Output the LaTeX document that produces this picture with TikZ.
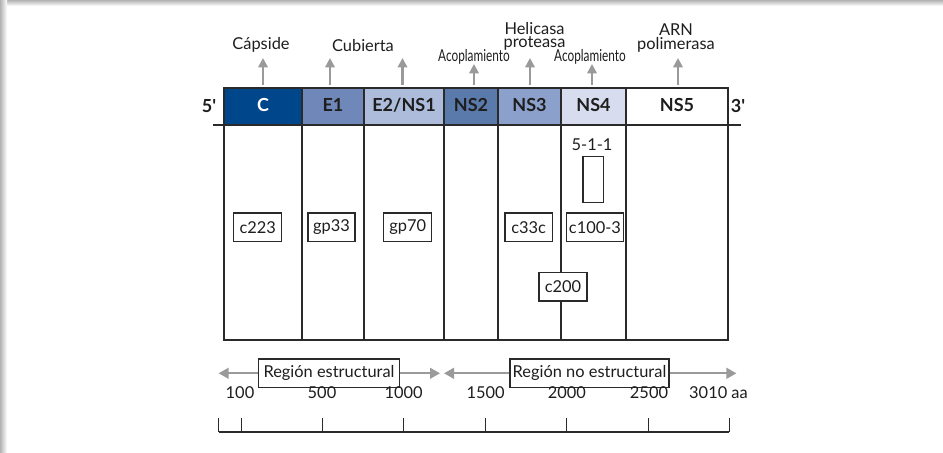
\documentclass[tikz,border=0pt]{standalone}
\usepackage{fontspec}
\setmainfont{Lato}
\usetikzlibrary{arrows.meta}
\definecolor{cC}{HTML}{00468A}
\definecolor{cEone}{HTML}{6F88B9}
\definecolor{cEtwo}{HTML}{AEBCDB}
\definecolor{cNStwo}{HTML}{5B7AAC}
\definecolor{cNSthree}{HTML}{8BA0CA}
\definecolor{cNSfour}{HTML}{D7DDEE}
\definecolor{lc}{HTML}{2A2A2A}
\definecolor{arr}{HTML}{9A9A9A}
\definecolor{txt}{HTML}{1E1E1E}
\begin{document}
\begin{tikzpicture}[x=0.75pt,y=-0.75pt,
  font=\fontsize{12.3}{14}\selectfont,
  every node/.style={text=txt},
  frame/.style={draw=lc, line width=0.9pt},
  seglab/.style={font=\fontsize{13.5}{15}\selectfont\bfseries, anchor=base},
  toplab/.style={anchor=base},
  tightlab/.style={anchor=base, inner sep=0pt},
  uparr/.style={draw=arr, line width=2.1pt, -{Triangle[width=7pt,length=7pt]}},
  regarr/.style={draw=arr, line width=1.6pt, -{Triangle[width=8pt,length=7.5pt]}},
  labbox/.style={draw=lc, line width=0.9pt, fill=white, minimum height=21.5pt, inner xsep=2pt, inner ysep=0pt},
  regbox/.style={draw=lc, line width=0.9pt, fill=white, minimum height=21.5pt, inner xsep=2pt, inner ysep=0pt},
  tick/.style={draw=lc, line width=0.8pt}
]
\useasboundingbox (0,0) rectangle (943,453);
\fill[white] (0,0) rectangle (943,453);
\shade[top color=black!30, bottom color=white] (0,0) rectangle (943,6);
\shade[left color=black!30, right color=white] (0,0) rectangle (7,453);

% segment fills
\fill[cC] (224,88) rectangle (302,125);
\fill[cEone] (302,88) rectangle (364,125);
\fill[cEtwo] (364,88) rectangle (444,125);
\fill[cNStwo] (444,88) rectangle (498,125);
\fill[cNSthree] (498,88) rectangle (561,125);
\fill[cNSfour] (561,88) rectangle (626,125);

% frame
\draw[frame] (224,88) rectangle (728,340);
\draw[frame] (213,125) -- (741,125);
\foreach \x in {302,364,444,498,561,626} \draw[frame] (\x,88) -- (\x,340);
\draw[draw=lc, line width=1.5pt] (224,340) -- (728,340);

% segment labels
\node[seglab, text=white] (C) at (263,112) {C};
\node[seglab] (E1) at (333,112) {E1};
\node[seglab] (E2) at (404,112) {E2/NS1};
\node[seglab] (NS2) at (471,112) {NS2};
\node[seglab] (NS3) at (529.5,112) {NS3};
\node[seglab] (NS4) at (593.5,112) {NS4};
\node[seglab] (NS5) at (677,112) {NS5};
\node[seglab] (p5) at (209,113) {5\textquotesingle};
\node[seglab] (p3) at (738,113) {3\textquotesingle};

% top labels
\node[toplab] (capside) at (261,49.5) {Cápside};
\node[toplab] (cubierta) at (363,51.5) {Cubierta};
\node[toplab] (acop1) at (474,61.5) {\scalebox{0.72}[1]{Acoplamiento}};
\node[toplab] (acop2) at (590,61.5) {\scalebox{0.72}[1]{Acoplamiento}};
\node[tightlab] (heli) at (534.5,34.5) {Helicasa};
\node[tightlab] (prot) at (534.5,47.5) {proteasa};
\node[tightlab] (arn) at (676,36) {ARN};
\node[tightlab] (poli) at (676,50) {polimerasa};

% up arrows
\foreach \n/\x/\t in {a/263/58, b/330/58, c/402.5/58, d/474/64, e/530/58, f/592/64, g/678/58}{
  \coordinate (s\n) at (\x,85);
  \coordinate (t\n) at (\x,\t);
  \draw[uparr] (s\n) -- (t\n);
}

% inner boxes
\node (n511) at (592,145) {5-1-1};
\node[draw=lc, line width=0.9pt, fill=white, minimum width=15.5pt, minimum height=35pt, inner sep=0pt] (r511) at (593.3,179.5) {};
\node[labbox, minimum width=36pt] (c223) at (257.7,227.3) {c223};
\node[labbox, minimum width=35.3pt] (gp33) at (331.5,227.3) {gp33};
\node[labbox, minimum width=36pt] (gp70) at (407.7,227.3) {gp70};
\node[labbox, minimum width=35.6pt] (c33c) at (528.7,227.3) {c33c};
\node[labbox, minimum width=42pt] (c100) at (594.9,227.3) {c100-3};
\node[labbox, minimum width=36pt] (c200) at (563,286.7) {c200};

% regions
\node[regbox, minimum width=105.8pt] (reg1) at (329,373.3) {Región estructural};
\node[regbox, minimum width=119.3pt] (reg2) at (589.5,373.3) {Región no estructural};
\coordinate (r1l) at (218.6,373.3);
\coordinate (r1r) at (440,373.3);
\coordinate (r2l) at (444,373.3);
\coordinate (r2r) at (736.4,373.3);
\draw[regarr] (reg1.west) -- (r1l);
\draw[regarr] (reg1.east) -- (r1r);
\draw[regarr] (reg2.west) -- (r2l);
\draw[regarr] (reg2.east) -- (r2r);

% axis
\coordinate (axl) at (218.6,432);
\coordinate (axr) at (729.3,432);
\draw[tick] (axl) -- (axr);
\foreach \x in {218.6,241.8,322.9,403.6,485.7,566.8,648.2,729.3} \draw[tick] (\x,418) -- (\x,432);
\foreach \n/\x/\l in {k1/240/100, k2/322/500, k3/403.6/1000, k4/485.7/1500, k5/566.8/2000, k6/649/2500}
  \node[anchor=base] (\n) at (\x,398.5) {\l};
\node[anchor=base] (k7) at (718.5,398.5) {3010 aa};
\end{tikzpicture}
\end{document}
